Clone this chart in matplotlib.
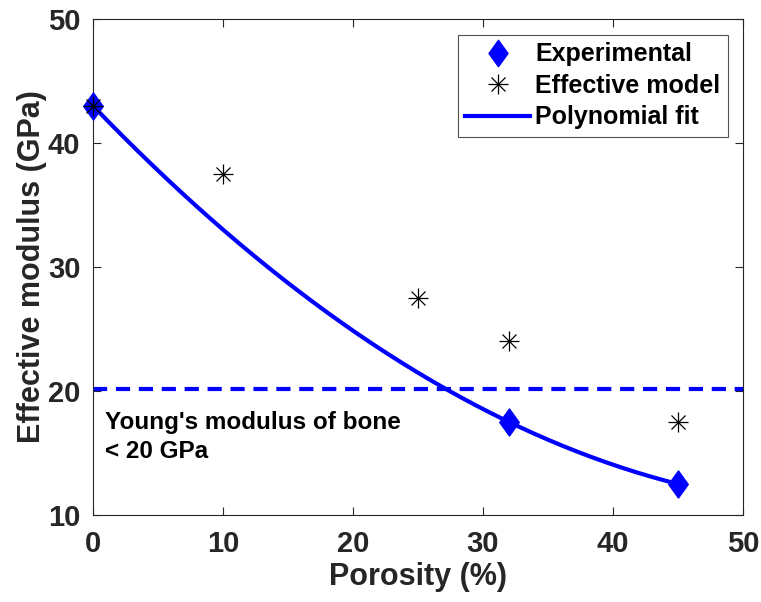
import numpy as np
import matplotlib.pyplot as plt
from matplotlib.lines import Line2D
from matplotlib.path import Path

plt.rcParams['font.family'] = ['Liberation Sans', 'DejaVu Sans']
plt.rcParams['font.weight'] = 'bold'

# experimental data
por_exp = [0, 32, 45]
mod_exp = [43, 17.5, 12.5]

# effective model
por_model = [0, 10, 25, 32, 45]
mod_model = [43, 37.5, 27.5, 24, 17.5]

bone_limit = 20.2

# polynomial fit (2nd order) of experimental data
coef = np.polyfit(por_exp, mod_exp, 2)
xfit = np.linspace(0, 45, 200)
yfit = np.polyval(coef, xfit)

# matlab-like diamond (taller than wide)
diam = Path([(0, 1), (0.72, 0), (0, -1), (-0.72, 0), (0, 1)],
            [Path.MOVETO, Path.LINETO, Path.LINETO, Path.LINETO, Path.CLOSEPOLY])

fig = plt.figure(figsize=(7.61, 6.02), dpi=100)
ax = fig.add_axes([93/761, 1-515/602, 650/761, 496/602])

ax.plot(xfit, yfit, '-', color='blue', lw=3, zorder=2)
ax.plot([0, 50], [bone_limit, bone_limit], '--', color='blue', lw=3, dashes=(3.4, 2.1), zorder=2)
ax.plot(por_exp, mod_exp, ls='none', marker=diam, color='blue', markersize=19.5, zorder=3, clip_on=False)
# asterisk = plus + cross + centre dot
ax.plot(por_model, mod_model, '+', color='black', markersize=15, mew=0.9, zorder=4, clip_on=False)
ax.plot(por_model, mod_model, 'x', color='black', markersize=10.5, mew=0.9, zorder=4, clip_on=False)
ax.plot(por_model, mod_model, '.', color='black', markersize=3, zorder=4, clip_on=False)

ax.text(0.9, 16.3, "Young's modulus of bone\n< 20 GPa", fontsize=17.5, fontweight='bold',
        va='center', ha='left', linespacing=1.3)

ax.set_xlim(0, 50)
ax.set_ylim(10, 50)
ax.set_xticks([0, 10, 20, 30, 40, 50])
ax.set_yticks([10, 20, 30, 40, 50])
ax.tick_params(direction='in', top=True, right=True, labelsize=21, colors='#262626',
               length=6, width=0.8)
ax.tick_params(axis='x', pad=11)
ax.tick_params(axis='y', pad=9)
for s in ax.spines.values():
    s.set_color('#262626')
    s.set_linewidth(0.8)
ax.set_xlabel('Porosity (%)', fontsize=22, fontweight='bold', color='#262626', labelpad=3)
ax.set_ylabel('Effective modulus (GPa)', fontsize=22, fontweight='bold', color='#262626', labelpad=1)

# legend
h1 = Line2D([], [], marker=diam, color='blue', ls='none', markersize=19)
h2a = Line2D([], [], marker='+', color='black', ls='none', markersize=14, mew=0.9)
h2b = Line2D([], [], marker='x', color='black', ls='none', markersize=10, mew=0.9)
h3 = Line2D([], [], color='blue', lw=3)
leg = ax.legend([h1, (h2a, h2b), h3], ['Experimental', 'Effective model', 'Polynomial fit'],
                loc='upper right', bbox_to_anchor=(0.977, 0.968), fontsize=18, frameon=True,
                fancybox=False, edgecolor='#262626', handlelength=2.6, borderpad=0.3,
                labelspacing=0.3, handletextpad=0.2, borderaxespad=0)
leg.get_frame().set_linewidth(0.8)

fig.savefig('out.png', dpi=100)
